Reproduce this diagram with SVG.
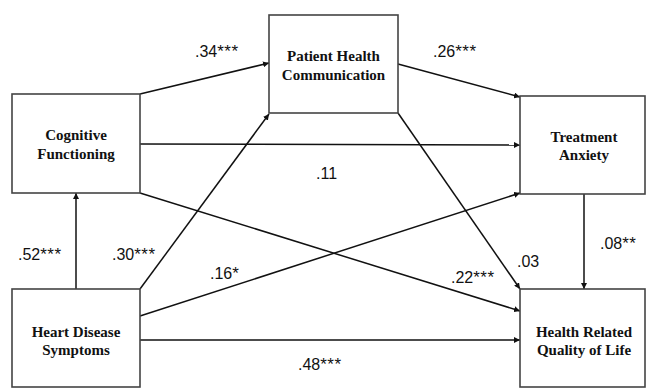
<svg xmlns="http://www.w3.org/2000/svg" width="648" height="388" viewBox="0 0 648 388">
<style>
.box{fill:#fff;stroke:#444;stroke-width:1.6}
.nt{font-family:'Liberation Serif','Times New Roman','DejaVu Serif',serif;font-weight:bold;font-size:15px;fill:#111;text-anchor:middle}
.cn{stroke:#111;stroke-width:1.5;fill:none;marker-end:url(#ah)}
.lb{font-family:'Liberation Sans',Arial,sans-serif;font-size:16px;fill:#111}
.st{font-size:17px;letter-spacing:0.5px}
</style>
<defs>
<marker id="ah" viewBox="0 0 10 10" refX="10" refY="5" markerWidth="6" markerHeight="6" markerUnits="userSpaceOnUse" orient="auto">
<path d="M0,0 L10,5 L0,10 z" fill="#111"/>
</marker>
</defs>
<rect width="648" height="388" fill="#fff"/>
<g id="connectors">
<line class="cn" x1="140" y1="94" x2="269" y2="63"/>
<line class="cn" x1="140" y1="144" x2="520" y2="145"/>
<line class="cn" x1="140" y1="193" x2="520" y2="311"/>
<line class="cn" x1="398" y1="64" x2="520" y2="97"/>
<line class="cn" x1="398" y1="113" x2="520" y2="289"/>
<line class="cn" x1="584" y1="194" x2="584" y2="289"/>
<line class="cn" x1="76" y1="289" x2="76" y2="193"/>
<line class="cn" x1="140" y1="289" x2="269" y2="114"/>
<line class="cn" x1="140" y1="316" x2="520" y2="193"/>
<line class="cn" x1="140" y1="340" x2="520" y2="340"/>
</g>
<g id="labels">
<text class="lb" x="195" y="57">.34<tspan class="st">***</tspan></text>
<text class="lb" x="433" y="57">.26<tspan class="st">***</tspan></text>
<text class="lb" x="316" y="179">.11</text>
<text class="lb" x="18" y="260">.52<tspan class="st">***</tspan></text>
<text class="lb" x="112" y="260">.30<tspan class="st">***</tspan></text>
<text class="lb" x="210" y="279">.16<tspan class="st">*</tspan></text>
<text class="lb" x="298" y="370">.48<tspan class="st">***</tspan></text>
<text class="lb" x="451" y="283">.22<tspan class="st">***</tspan></text>
<text class="lb" x="517" y="267">.03</text>
<text class="lb" x="600" y="249">.08<tspan class="st">**</tspan></text>
</g>
<g id="cognitive">
<rect class="box" x="12" y="94" width="128" height="99"/>
<text class="nt" x="76" y="140">Cognitive</text>
<text class="nt" x="76" y="159">Functioning</text>
</g>
<g id="patient">
<rect class="box" x="269" y="15" width="129" height="98"/>
<text class="nt" x="333.5" y="61">Patient Health</text>
<text class="nt" x="333.5" y="80">Communication</text>
</g>
<g id="anxiety">
<rect class="box" x="520" y="96" width="125" height="98"/>
<text class="nt" x="584" y="142">Treatment</text>
<text class="nt" x="584" y="160">Anxiety</text>
</g>
<g id="heart">
<rect class="box" x="12" y="289" width="128" height="98"/>
<text class="nt" x="76" y="337">Heart Disease</text>
<text class="nt" x="76" y="355">Symptoms</text>
</g>
<g id="hrql">
<rect class="box" x="520" y="289" width="125" height="98"/>
<text class="nt" x="584" y="337">Health Related</text>
<text class="nt" x="584" y="355">Quality of Life</text>
</g>
</svg>
